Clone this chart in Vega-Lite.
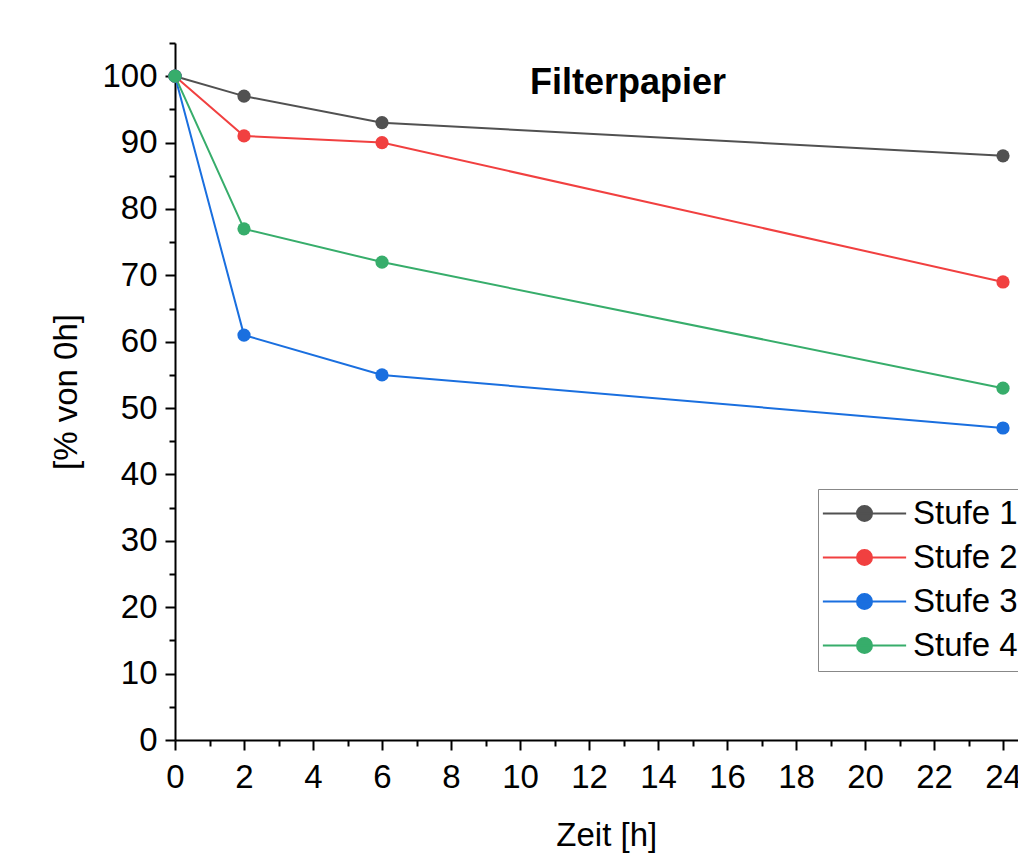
{
  "$schema": "https://vega.github.io/schema/vega-lite/v6.json",
  "autosize": "none",
  "padding": {"left": 175, "top": 43, "right": 0, "bottom": 115},
  "width": 862.5,
  "height": 697,
  "background": "white",
  "config": {"view": {"stroke": null}, "font": "Liberation Sans"},
  "data": {"values": [
    {"t": 0, "v": 100, "s": "Stufe 1"}, {"t": 2, "v": 97, "s": "Stufe 1"}, {"t": 6, "v": 93, "s": "Stufe 1"}, {"t": 24, "v": 88, "s": "Stufe 1"},
    {"t": 0, "v": 100, "s": "Stufe 2"}, {"t": 2, "v": 91, "s": "Stufe 2"}, {"t": 6, "v": 90, "s": "Stufe 2"}, {"t": 24, "v": 69, "s": "Stufe 2"},
    {"t": 0, "v": 100, "s": "Stufe 3"}, {"t": 2, "v": 61, "s": "Stufe 3"}, {"t": 6, "v": 55, "s": "Stufe 3"}, {"t": 24, "v": 47, "s": "Stufe 3"},
    {"t": 0, "v": 100, "s": "Stufe 4"}, {"t": 2, "v": 77, "s": "Stufe 4"}, {"t": 6, "v": 72, "s": "Stufe 4"}, {"t": 24, "v": 53, "s": "Stufe 4"}
  ]},
  "resolve": {"axis": {"x": "independent", "y": "independent"}},
  "layer": [
    {
      "mark": {"type": "line", "strokeWidth": 2},
      "encoding": {
        "x": {"field": "t", "type": "quantitative", "scale": {"domain": [0, 25], "nice": false, "zero": false},
          "axis": {"orient": "bottom", "values": [0,2,4,6,8,10,12,14,16,18,20,22,24], "grid": false, "domainColor": "black", "domainWidth": 2, "tickColor": "black", "tickWidth": 2, "tickSize": 10, "labelFontSize": 33, "labelColor": "black", "labelPadding": 11, "labelFont": "Liberation Sans", "title": "Zeit [h]", "titleFontSize": 33, "titleFontWeight": "normal", "titleColor": "black", "titlePadding": 25, "titleFont": "Liberation Sans", "labelFlush": false, "labelOverlap": false}},
        "y": {"field": "v", "type": "quantitative", "scale": {"domain": [0, 105], "nice": false},
          "axis": {"orient": "left", "values": [0,10,20,30,40,50,60,70,80,90,100], "grid": false, "domainColor": "black", "domainWidth": 2, "tickColor": "black", "tickWidth": 2, "tickSize": 10, "labelFontSize": 33, "labelColor": "black", "labelPadding": 8, "labelFont": "Liberation Sans", "title": "[% von 0h]", "titleFontSize": 33, "titleFontWeight": "normal", "titleColor": "black", "titlePadding": 18, "titleFont": "Liberation Sans", "labelFlush": false, "labelOverlap": false}},
        "color": {"field": "s", "type": "nominal",
          "scale": {"domain": ["Stufe 1", "Stufe 2", "Stufe 3", "Stufe 4"], "range": ["#515151", "#F14040", "#1A6FDF", "#37AD6B"]},
          "legend": {"orient": "none", "legendX": 643, "legendY": 446, "title": null,
            "symbolType": "M -5.55 0 L 5.55 0 M 1 0 A 1 1 0 1 1 -1 0 A 1 1 0 1 1 1 0 Z",
            "symbolSize": 225, "symbolStrokeWidth": 2, "symbolOffset": 22, "labelFontSize": 33, "labelColor": "black", "labelFont": "Liberation Sans", "labelOffset": 32, "rowPadding": 10, "padding": 8, "strokeColor": "#888888", "fillColor": "white",
            "encode": {"symbols": {"update": {"fill": {"scale": "color", "field": "value"}, "stroke": {"scale": "color", "field": "value"}, "fillOpacity": {"value": 1}, "strokeWidth": {"value": 2}, "opacity": {"value": 1}}}}}}
      }
    },
    {
      "mark": {"type": "point", "filled": true, "size": 175, "opacity": 1},
      "encoding": {
        "x": {"field": "t", "type": "quantitative", "axis": {"orient": "bottom", "values": [1,3,5,7,9,11,13,15,17,19,21,23,25], "labels": false, "domain": false, "grid": false, "tickColor": "black", "tickWidth": 2, "tickSize": 6, "title": null}},
        "y": {"field": "v", "type": "quantitative", "axis": {"orient": "left", "values": [5,15,25,35,45,55,65,75,85,95,105], "labels": false, "domain": false, "grid": false, "tickColor": "black", "tickWidth": 2, "tickSize": 6, "title": null}},
        "color": {"field": "s", "type": "nominal"}
      }
    },
    {
      "data": {"values": [{"label": "Filterpapier"}]},
      "mark": {"type": "text", "fontWeight": "bold", "fontSize": 36, "font": "Liberation Sans", "align": "center", "baseline": "middle", "color": "black"},
      "encoding": {
        "x": {"datum": 13.13, "type": "quantitative", "axis": null},
        "y": {"datum": 98.9, "type": "quantitative", "axis": null},
        "text": {"field": "label"}
      }
    }
  ]
}
